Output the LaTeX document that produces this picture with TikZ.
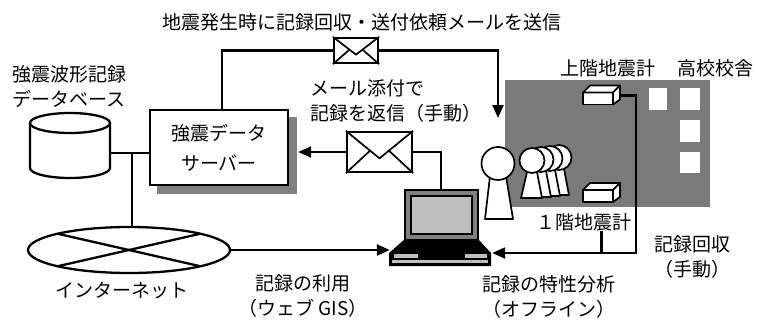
\documentclass[tikz,border=0pt]{standalone}
\usepackage{fontspec}
\setmainfont{Noto Sans CJK JP}
\usetikzlibrary{arrows.meta,shapes.geometric,calc}

\definecolor{shadowgray}{RGB}{128,128,128}

\tikzset{
  wire/.style={line width=2.3pt},
  arr/.style={wire,-{Triangle[length=13pt,width=11pt]}},
  lbl/.style={inner sep=0pt, align=center, font=\fontsize{19}{25}\selectfont},
  envelope/.style={draw, fill=white, line width=2.3pt, inner sep=0pt},
  fine/.style={line width=1.7pt, line join=round},
  seisbox/.pic={
    \draw[fine, fill=white] (-18.5,-3) rectangle (11.5,9);
    \draw[fine, fill=white] (-18.5,-3) -- (-11.5,-10) -- (18.5,-10) -- (11.5,-3) -- cycle;
    \draw[fine, fill=white] (11.5,-3) -- (18.5,-10) -- (18.5,4) -- (11.5,9) -- cycle;
  },
}

% flap lines of an envelope node
\newcommand\envflap[1]{%
  \coordinate (#1-v) at ($(#1.south)!0.35!(#1.north)$);
  \draw[fine] (#1.north west) -- (#1-v) -- (#1.north east);
  \draw[fine] (#1.south west) -- ($(#1.north west)!0.72!(#1-v)$);
  \draw[fine] (#1.south east) -- ($(#1.north east)!0.72!(#1-v)$);
}

\begin{document}
\begin{tikzpicture}[x=1pt,y=-1pt]
\useasboundingbox (0,0) rectangle (758,321);

% ---- school building with windows
\fill[black!52] (505,80) rectangle (710,207);
\fill[white] (649,88) rectangle (667,110);
\fill[white] (680,88) rectangle (700,110);
\fill[white] (680,120) rectangle (700,142);
\fill[white] (680,152) rectangle (700,173);

% ---- labels
\node[lbl] (title) at (362,22) {地震発生時に記録回収・送付依頼メールを送信};
\node[lbl, align=left, anchor=west] (dblbl) at (12,87) {強震波形記録\\データベース};
\node[lbl, align=left, anchor=west] (maillbl) at (310,101) {メール添付で\\記録を返信（手動）};
\node[lbl] (inetlbl) at (122,290) {インターネット};
\node[lbl] (uselbl) at (303,296) {記録の利用\\（ウェブ GIS）};
\node[lbl] (analbl) at (549,297) {記録の特性分析\\（オフライン）};
\node[lbl] (collbl) at (692,257) {記録回収\\（手動）};
\node[lbl] (lab2) at (608,68) {上階地震計};
\node[lbl] (schoollbl) at (715,68) {高校校舎};
\node[lbl] (lab1) at (584,222) {１階地震計};

% ---- waveform database (cylinder)
\node[minimum width=80pt, minimum height=66pt, inner sep=0pt] (db) at (70,145) {};
\draw[wire, fill=white] (30,123) -- (30,168)
  arc[start angle=180, end angle=360, x radius=40pt, y radius=10pt] -- (110,123);
\draw[wire, fill=white] (70,123) ellipse [x radius=40pt, y radius=10pt];
\coordinate (dbport) at (110,153);
\coordinate (jn) at (132,153);

% ---- strong-motion data server with an offset shadow behind it
\path[fill=shadowgray] (157,117) -- (297,117) -- (297,194) -- (157,194) -- cycle;
\node[draw, wire, fill=white, minimum width=138pt, minimum height=75pt,
      font=\fontsize{19}{30}\selectfont, align=center] (srv) at (219,147.5)
      {強震データ\\サーバー};

% ---- internet
\node[ellipse, draw, wire, minimum width=202pt, minimum height=46pt, inner sep=0pt] (inet) at (129,250) {};
\draw[wire] ([shift={(135:101pt and 23pt)}]inet.center) -- ([shift={(-45:101pt and 23pt)}]inet.center);
\draw[wire] ([shift={(45:101pt and 23pt)}]inet.center) -- ([shift={(-135:101pt and 23pt)}]inet.center);

% ---- envelopes
\node[envelope, minimum width=44pt, minimum height=25pt] (env1) at (356,50.5) {};
\envflap{env1}
\node[envelope, minimum width=65pt, minimum height=40pt] (env2) at (379.5,152) {};
\envflap{env2}

% ---- laptop
\node[minimum width=102pt, minimum height=75pt, inner sep=0pt] (pc) at (441,227.5) {};
\draw[line width=1.6pt, fill=black!50] (405,190) rectangle (478,240);
\draw[line width=1.4pt, fill=black!25] (411,196) rectangle (472,234);
\fill[black] (405,239) -- (478,239) -- (491,253) -- (491,266) -- (389,266) -- (389,253) -- cycle;
\fill[black!25] (394,254) rectangle (418,257.5);
\fill[black!25] (465,254) rectangle (487,257.5);
\fill[black!25] (392,259.5) rectangle (488,262.5);

% ---- seismometers
\pic at (601.5,95.5) {seisbox};
\node[minimum width=37pt, minimum height=19pt, inner sep=0pt] (s1) at (601.5,95.5) {};
\pic at (601.5,193) {seisbox};
\node[minimum width=37pt, minimum height=19pt, inner sep=0pt] (s2) at (601.5,193) {};

% ---- people
\foreach \k in {3,2,1,0}{
  \draw[fine, fill=white] ({527+9*\k},{172-\k}) -- ({537+9*\k},{172-\k})
     -- ({542+9*\k},{198-\k}) -- ({521+9*\k},{198-\k}) -- cycle;
  \draw[fine, fill=white] ({532+9*\k},{160.5-\k}) circle[radius=12.5pt];
}
\draw[fine, fill=white] (490,176) -- (506,176) -- (513,219) -- (485,219) -- cycle;
\draw[fine, fill=white] (498,163.5) circle[radius=16.5pt];

% ---- connectors
\coordinate (mailin) at (498,118);
\coordinate (cv) at (636,253);
\draw[wire] (dbport) -- (dbport -| srv.west);
\draw[wire] (jn) -- (jn |- inet.north);
\draw[wire] ([xshift=3pt]srv.north) |- (env1.west);
\draw[arr] (env1.east) -| (mailin);
\draw[arr] (env2.west) -- ($(srv.east |- env2.west)+(9,0)$);
\draw[wire] (env2.east) -| (pc.north);
\draw[arr] (inet.east) -- (inet.east -| pc.west);
\draw[arr] (s1.east) -| (cv) -- (cv -| pc.east);
\draw[wire] (s2 |- lab1.south) -- (s2 |- cv);

\end{tikzpicture}
\end{document}
